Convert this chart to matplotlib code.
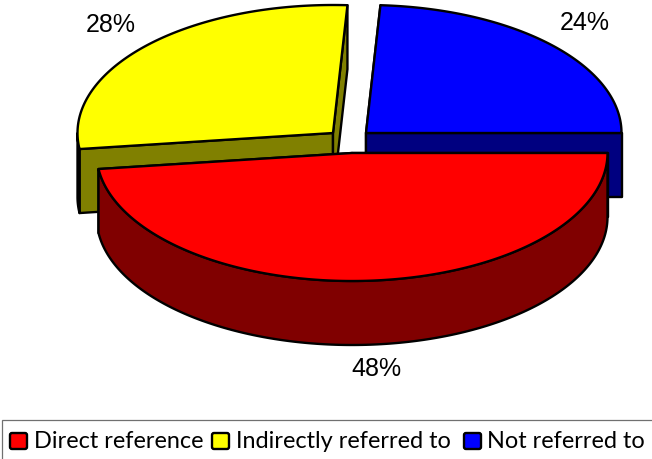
import numpy as np
import matplotlib
matplotlib.use("Agg")
import matplotlib.pyplot as plt
from matplotlib.patches import Polygon, Rectangle, FancyBboxPatch

categories = ["Direct reference", "Indirectly referred to", "Not referred to"]
values = [48, 27.9, 24.1]
labels = ["48%", "28%", "24%"]
top_colors = ["#FF0000", "#FFFF00", "#0000FF"]
side_colors = ["#800000", "#808000", "#000080"]
centers = [(352, 153), (333, 133), (366, 133)]

RX, RY, DEPTH = 255.5, 128, 64

fig = plt.figure(figsize=(6.52, 4.59), dpi=100)
ax = fig.add_axes([0, 0, 1, 1])
ax.set_xlim(0, 652)
ax.set_ylim(459, 0)
ax.axis("off")

# slice angles measured clockwise from east
spans = []
start = 0.0
for v in values:
    spans.append((start, start + v * 3.6))
    start += v * 3.6


def pts(c, a0, a1, dy=0, n=200):
    t = np.radians(np.linspace(a0, a1, n))
    return np.column_stack([c[0] + RX * np.cos(t), c[1] + dy + RY * np.sin(t)])


def poly(p, fc, z):
    ax.add_patch(Polygon(p, closed=True, fc=fc, ec="black", lw=1.7, joinstyle="round", zorder=z))


def draw_slice(i, z):
    c = centers[i]
    a0, a1 = spans[i]
    side = side_colors[i]
    for a in (a0, a1):
        e = pts(c, a, a, n=1)[0]
        poly([c, e, (e[0], e[1] + DEPTH), (c[0], c[1] + DEPTH)], side, z)
    lo, hi = max(a0, 0), min(a1, 180)
    if lo < hi:
        upper = pts(c, lo, hi)
        poly(np.vstack([upper, upper[::-1] + [0, DEPTH]]), side, z + 0.1)
    lo, hi = max(a0, 360), min(a1, 540)
    if lo < hi:
        upper = pts(c, lo, hi)
        poly(np.vstack([upper, upper[::-1] + [0, DEPTH]]), side, z + 0.1)
    poly(np.vstack([[c], pts(c, a0, a1)]), top_colors[i], z + 0.2)


draw_slice(2, 1)
draw_slice(1, 2)
draw_slice(0, 3)

label_pos = [(376, 369), (111, 25), (585, 23)]
for s, (x, y) in zip(labels, label_pos):
    ax.text(x, y, s, ha="center", va="center", fontsize=18, family="Liberation Sans", color="black")

ax.add_patch(Rectangle((2, 420), 660, 50, fc="white", ec="#707070", lw=0.9, zorder=5))
swatch_x = [10, 212, 464]
text_x = [34, 236, 487]
for i, name in enumerate(categories):
    ax.add_patch(FancyBboxPatch((swatch_x[i], 433), 17, 16, boxstyle="round,pad=0,rounding_size=2",
                                fc=top_colors[i], ec="black", lw=1.7, zorder=6))
    ax.text(text_x[i], 442, name, ha="left", va="center", fontsize=16.9, family="Lato", zorder=6)

fig.savefig("out.png", dpi=100)
